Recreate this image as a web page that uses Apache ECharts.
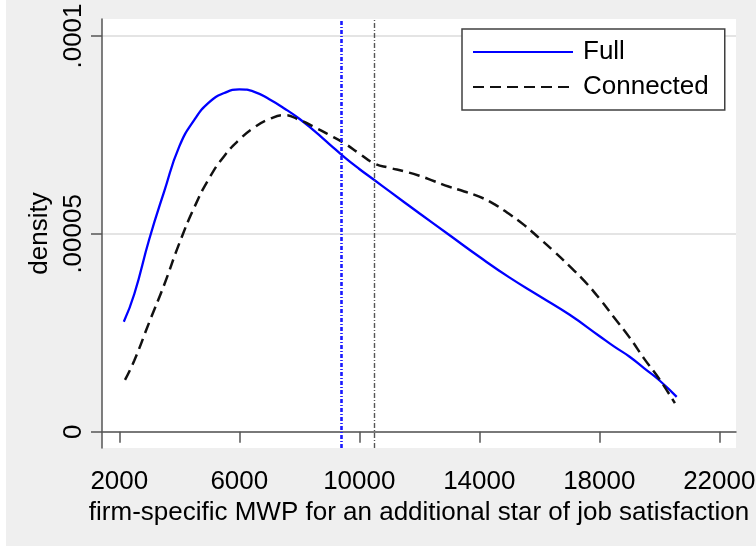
<!DOCTYPE html>
<html><head><meta charset="utf-8">
<script src="https://cdn.jsdelivr.net/npm/echarts@6/dist/echarts.min.js"></script>
<style>html,body{margin:0;padding:0;background:#fff}#c{width:756px;height:546px}</style>
</head><body><div id="c"></div>
<script>
// density values in units of 1e-5
const fullX = [2150, 2500, 3000, 3500, 4000, 4500, 5000, 5500, 6000, 6500, 7000, 7500, 8000, 8500, 9000, 9500, 10000, 10500, 11000, 12000, 13000, 14000, 15000, 16000, 17000, 18000, 18500, 19000, 19500, 20000, 20580];
const fullY = [2.78, 3.48, 4.87, 6.08, 7.21, 7.88, 8.33, 8.56, 8.65, 8.59, 8.40, 8.17, 7.91, 7.60, 7.27, 6.94, 6.64, 6.36, 6.08, 5.52, 4.97, 4.42, 3.90, 3.43, 2.96, 2.42, 2.15, 1.90, 1.60, 1.30, 0.88];
const connX = [2190, 2500, 3000, 3500, 4000, 4500, 5000, 5500, 6000, 6500, 7000, 7500, 8000, 8500, 9000, 9500, 10000, 10500, 11000, 11500, 12000, 12500, 13000, 13500, 14000, 14500, 15000, 15500, 16000, 16500, 17000, 17500, 18000, 18500, 19000, 19500, 20000, 20520];
const connY = [1.31, 1.80, 2.77, 3.72, 4.76, 5.67, 6.41, 6.97, 7.38, 7.69, 7.90, 8.00, 7.88, 7.70, 7.50, 7.29, 7.03, 6.78, 6.67, 6.58, 6.47, 6.33, 6.19, 6.07, 5.94, 5.75, 5.50, 5.22, 4.89, 4.55, 4.19, 3.81, 3.37, 2.88, 2.39, 1.84, 1.33, 0.72];
const meanFull = 9400;
const meanConn = 10500;
const xTicks = [2000, 6000, 10000, 14000, 18000, 22000];
const yTicks = [0, 5, 10];
const yTickLabels = ['0', '.00005', '.0001'];
const seriesNames = ['Full', 'Connected'];
const xTitle = 'firm-specific MWP for an additional star of job satisfaction';
const yTitle = 'density';

const FONT = 'Liberation Sans, Arial, Helvetica, sans-serif';
const chart = echarts.init(document.getElementById('c'), null, {renderer: 'canvas'});
const pairs = (xs, ys) => xs.map((x, i) => [x, ys[i]]);
const axisColor = '#555';
const TXT = '#000';
chart.setOption({
  animation: false,
  backgroundColor: '#efefef',
  textStyle: {fontFamily: FONT},
  graphic: [{type: 'rect', shape: {x: 0, y: 0, width: 6, height: 546}, style: {fill: '#fff'}, silent: true}],
  grid: {left: 102, right: 20, top: 19, bottom: 98, show: true, backgroundColor: '#fff', borderWidth: 0, containLabel: false, outerBoundsMode: 'none'},
  legend: {
    orient: 'vertical', left: 462, top: 29,
    backgroundColor: '#fff', borderColor: '#404040', borderWidth: 1.5, borderRadius: 0,
    padding: [10, 16, 10, 10], itemWidth: 100, itemHeight: 14, itemGap: 9,
    itemStyle: {color: 'transparent', borderWidth: 0, opacity: 0},
    textStyle: {fontSize: 26, color: TXT, fontFamily: FONT, padding: [0, 0, 0, 5]},
    data: seriesNames
  },
  xAxis: {
    type: 'value', min: 1423, max: 22557,
    name: xTitle, nameLocation: 'middle', nameGap: 52,
    nameTextStyle: {fontSize: 26, color: TXT, fontFamily: FONT},
    axisLine: {show: true, lineStyle: {color: axisColor, width: 1.5}},
    axisTick: {show: true, length: 11, lineStyle: {color: axisColor, width: 1.5}, customValues: xTicks},
    axisLabel: {show: true, fontSize: 26, color: TXT, margin: 21, customValues: xTicks, formatter: v => String(v)},
    splitLine: {show: false}
  },
  yAxis: {
    type: 'value', min: -0.412, max: 10.43,
    name: yTitle, nameLocation: 'middle', nameGap: 43, nameRotate: 90,
    nameTextStyle: {fontSize: 26, color: TXT, fontFamily: FONT},
    axisLine: {show: true, lineStyle: {color: axisColor, width: 1.5}},
    axisTick: {show: true, length: 11, lineStyle: {color: axisColor, width: 1.5}, customValues: yTicks},
    axisLabel: {show: true, fontSize: 26, color: TXT, margin: 15, rotate: 90, customValues: yTicks,
      formatter: v => { const i = yTicks.indexOf(Math.round(v * 1000) / 1000); return i >= 0 ? yTickLabels[i] : ''; }},
    splitLine: {show: true, lineStyle: {color: '#e4e4e4', width: 1.8}}
  },
  series: [
    {
      name: seriesNames[0], type: 'line', data: pairs(fullX, fullY), smooth: 0.5,
      symbol: 'none', lineStyle: {color: '#0000ff', width: 2.3}, itemStyle: {color: '#0000ff'},
      markLine: {silent: true, symbol: 'none', label: {show: false},
        lineStyle: {color: '#1a1aff', width: 2.6, type: [4, 2, 1, 2]}, data: [{xAxis: meanFull}]}
    },
    {
      name: seriesNames[1], type: 'line', data: pairs(connX, connY), smooth: 0.5,
      symbol: 'none', lineStyle: {color: '#111', width: 2.5, type: [11, 6]}, itemStyle: {color: '#111'},
      markLine: {silent: true, symbol: 'none', label: {show: false},
        lineStyle: {color: '#555', width: 1.4, type: [5, 2, 1, 2]}, data: [{xAxis: meanConn}]}
    }
  ]
});
</script></body></html>
